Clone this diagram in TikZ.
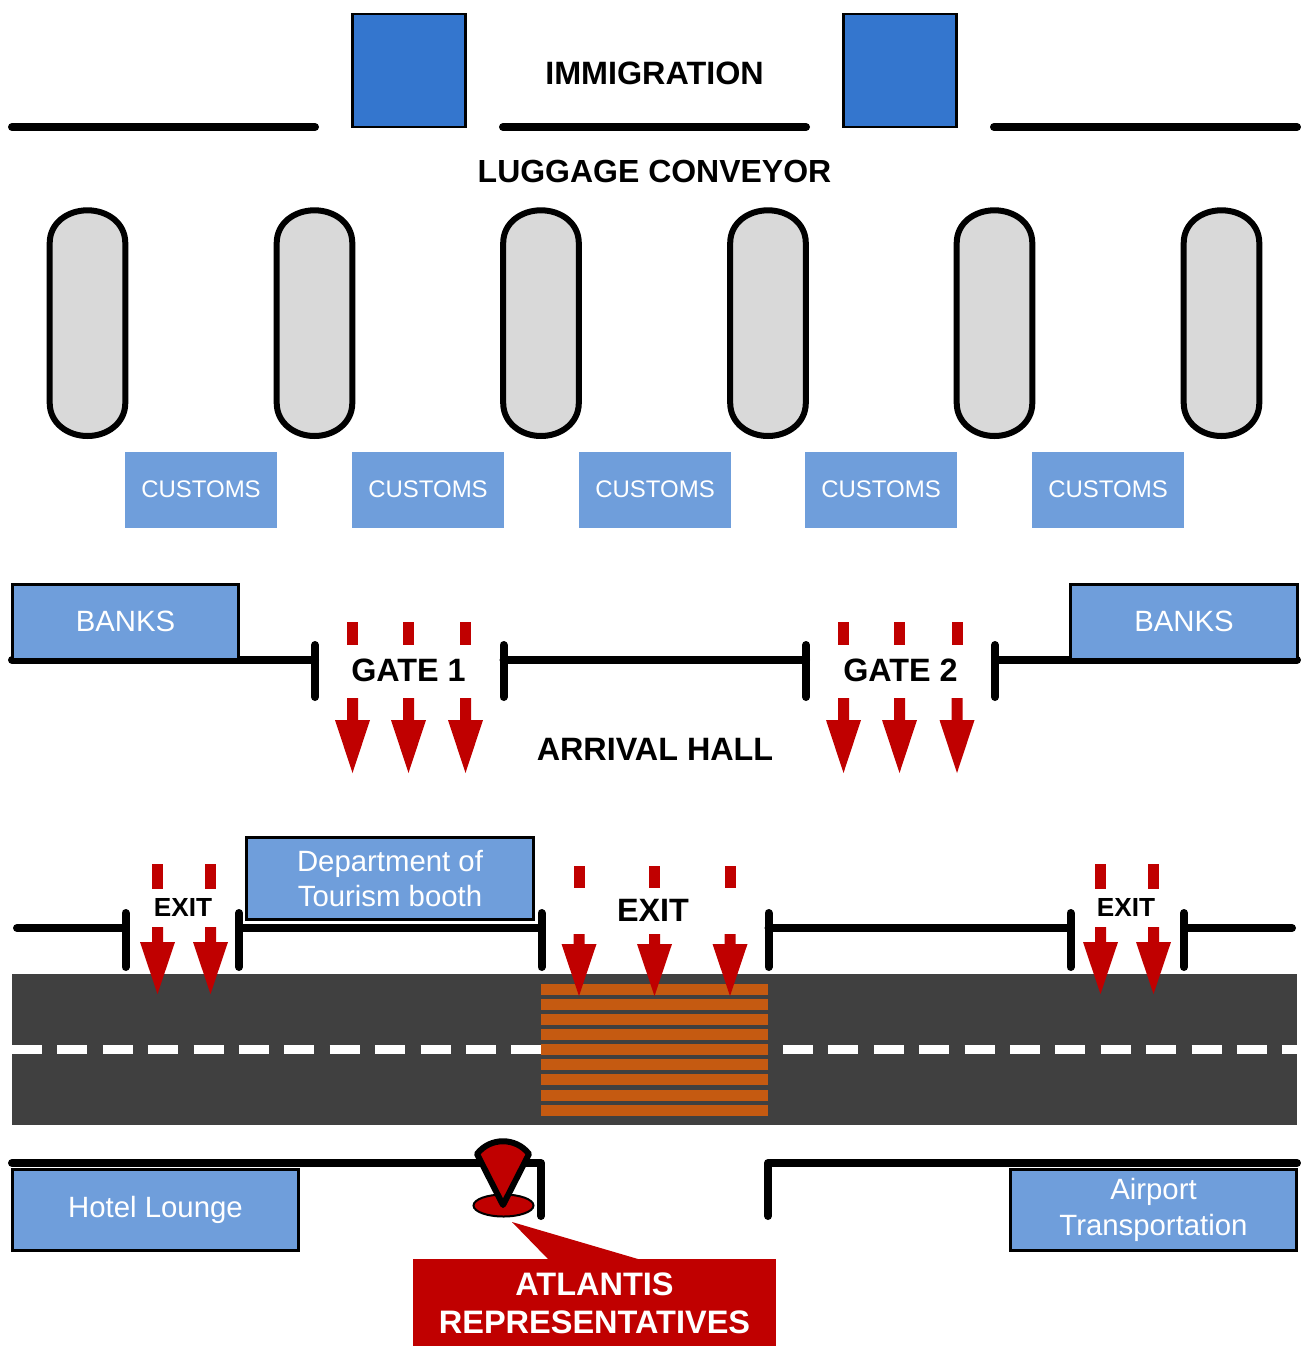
\documentclass[tikz,border=0pt]{standalone}
\usepackage{xcolor}
\usepackage{fontspec}
\setmainfont{Liberation Sans}
\usetikzlibrary{shapes,positioning}
\definecolor{deskblue}{HTML}{3476CE}
\definecolor{boothblue}{HTML}{6F9EDB}
\definecolor{beltgrey}{HTML}{D9D9D9}
\definecolor{flowred}{HTML}{C00000}
\definecolor{roadgrey}{HTML}{404040}
\definecolor{crossorange}{HTML}{C55A11}
\tikzset{
    wall/.style={draw=black, line width=0.16cm, line cap=round, line join=round},
    desk/.style={draw=black, fill=deskblue, line width=0.055cm, inner sep=0pt, minimum width=2.26cm, minimum height=2.26cm},
    belt/.style={draw=black, fill=beltgrey, line width=0.12cm},
    customs/.style={fill=boothblue, text=white, inner sep=0pt, minimum width=3.04cm, minimum height=1.52cm, font=\fontsize{13.65}{16}\selectfont},
    booth/.style={draw=black, fill=boothblue, text=white, line width=0.06cm, inner sep=0pt, align=center, font=\fontsize{16.7}{20.4}\selectfont},
    title/.style={inner sep=0pt, font=\fontsize{18.4}{21}\selectfont\bfseries},
    smalltitle/.style={inner sep=0pt, font=\fontsize{14.9}{18}\selectfont\bfseries},
}
% one dash and one block arrow: x, dash top, dash bottom, shaft top, head top, tip
\newcommand{\flowarrow}[6]{
    \fill[flowred] (#1-5.5,#2) rectangle (#1+5.5,#3);
    \fill[flowred] (#1-5.5,#4) -- (#1+5.5,#4) -- (#1+5.5,#5) -- (#1+17.5,#5) -- (#1,#6) -- (#1-17.5,#5) -- (#1-5.5,#5) -- cycle;
}
% one conveyor, rounded at both ends: x of its middle
\newcommand{\conveyor}[1]{
    \draw[belt] (#1-37.8,243) .. controls (#1-37.8,223) and (#1-20,210.3) .. (#1,210.3) .. controls (#1+20,210.3) and (#1+37.8,223) .. (#1+37.8,243) -- (#1+37.8,403) .. controls (#1+37.8,423) and (#1+20,436) .. (#1,436) .. controls (#1-20,436) and (#1-37.8,423) .. (#1-37.8,403) -- cycle;
}
\begin{document}
\begin{tikzpicture}[x=0.02cm,y=-0.02cm]
        \useasboundingbox (0,0) rectangle (1301,1346);

            % immigration
            \node[desk] (desk1) at (409,70.5) {};
            \node[desk] (desk2) at (900,70.5) {};
            \node[title] (immigration) at (654.5,73.5) {IMMIGRATION};
            \draw[wall] (12,127) -- (315,127);
            \draw[wall] (503,127) -- (806,127);
            \draw[wall] (994,127) -- (1297,127);

            % conveyors
            \node[title, font=\fontsize{18.2}{21}\selectfont\bfseries] (luggage) at (654.5,171.5) {LUGGAGE CONVEYOR};
            \conveyor{87.5}
            \conveyor{314.5}
            \conveyor{541}
            \conveyor{768}
            \conveyor{994.5}
            \conveyor{1221.5}

            % customs
            \node[customs] (customs1) at (201,490) {\raisebox{1pt}{CUSTOMS}};
            \node[customs] (customs2) at (428,490) {\raisebox{1pt}{CUSTOMS}};
            \node[customs] (customs3) at (655,490) {\raisebox{1pt}{CUSTOMS}};
            \node[customs] (customs4) at (881,490) {\raisebox{1pt}{CUSTOMS}};
            \node[customs] (customs5) at (1108,490) {\raisebox{1pt}{CUSTOMS}};

            % gates
            \draw[wall] (12,660) -- (315,660);
            \draw[wall] (503.5,660) -- (806,660);
            \draw[wall] (995,660) -- (1297,660);
            \draw[wall] (315,645) -- (315,697);
            \draw[wall] (503.5,645) -- (503.5,697);
            \draw[wall] (806,645) -- (806,697);
            \draw[wall] (995,645) -- (995,697);
            \node[booth, minimum width=4.54cm, minimum height=1.5cm] (banks1) at (125.5,622) {\raisebox{0.5pt}{BANKS}};
            \node[booth, minimum width=4.56cm, minimum height=1.5cm] (banks2) at (1184,622) {\raisebox{0.5pt}{BANKS}};
            \node[title] (gate1) at (408.5,670.5) {GATE 1};
            \node[title] (gate2) at (900.5,670.5) {GATE 2};
            \node[title] (arrival) at (655,749.5) {ARRIVAL HALL};
            \flowarrow{352.5}{622}{645}{698}{720}{773}
            \flowarrow{408.5}{622}{645}{698}{720}{773}
            \flowarrow{465.5}{622}{645}{698}{720}{773}
            \flowarrow{843.5}{622}{645}{698}{720}{773}
            \flowarrow{899.5}{622}{645}{698}{720}{773}
            \flowarrow{957}{622}{645}{698}{720}{773}

            % exits
            \draw[wall] (17,928) -- (125.5,928);
            \draw[wall] (239,928) -- (541.5,928);
            \draw[wall] (768.5,928) -- (1070.5,928);
            \draw[wall] (1184,928) -- (1292,928);
            \draw[wall] (125.5,913) -- (125.5,967);
            \draw[wall] (239,913) -- (239,967);
            \draw[wall] (541.5,913) -- (541.5,967);
            \draw[wall] (768.5,913) -- (768.5,967);
            \draw[wall] (1070.5,913) -- (1070.5,967);
            \draw[wall] (1184,913) -- (1184,967);
            \node[booth, minimum width=5.74cm, minimum height=1.64cm] (tourism) at (390,878.5) {Department of\\Tourism booth};
            \node[smalltitle] (exit1) at (183,907) {EXIT};
            \node[title] (exit2) at (653,910.5) {EXIT};
            \node[smalltitle] (exit3) at (1126,907) {EXIT};

            % road
            \fill[roadgrey] (12,974) rectangle (1297,1125);
            \draw[white, line width=0.17cm, dash pattern=on 0.6cm off 0.308cm] (12,1049.5) -- (541,1049.5);
            \draw[white, line width=0.17cm, dash pattern=on 0.6cm off 0.308cm] (783,1049.5) -- (1297,1049.5);
            \fill[crossorange] (541,983.5) rectangle (768,994.5);
            \fill[crossorange] (541,998.5) rectangle (768,1009.5);
            \fill[crossorange] (541,1013.5) rectangle (768,1024.5);
            \fill[crossorange] (541,1029) rectangle (768,1040);
            \fill[crossorange] (541,1044) rectangle (768,1055);
            \fill[crossorange] (541,1059) rectangle (768,1070);
            \fill[crossorange] (541,1074) rectangle (768,1085);
            \fill[crossorange] (541,1089.5) rectangle (768,1100.5);
            \fill[crossorange] (541,1104.5) rectangle (768,1115.5);
            \flowarrow{157.5}{864}{889}{927}{942}{994}
            \flowarrow{210.5}{864}{889}{927}{942}{994}
            \flowarrow{579}{866}{888}{934}{944}{996}
            \flowarrow{654.5}{866}{888}{934}{944}{996}
            \flowarrow{730}{866}{888}{934}{944}{996}
            \flowarrow{1100.5}{864}{889}{927}{942}{994}
            \flowarrow{1153.5}{864}{889}{927}{942}{994}

            % lounge side
            \draw[wall] (12,1163) -- (541,1163) -- (541,1216);
            \draw[wall] (1297,1163) -- (768,1163) -- (768,1216);
            \node[booth, minimum width=5.74cm, minimum height=1.62cm] (hotel) at (155.5,1209.5) {Hotel Lounge};
            \node[booth, minimum width=5.74cm, minimum height=1.62cm] (airport) at (1153.5,1209.5) {Airport\\Transportation};

            % representatives
            \node[draw=black, fill=flowred, ellipse, line width=0.04cm, inner sep=0pt, minimum width=1.2cm, minimum height=0.44cm] (spot) at (503.5,1205.5) {};
            \draw[fill=flowred, line width=0.12cm, line join=round] (477,1154) .. controls (490,1137) and (516,1137) .. (529,1154) -- (503,1205) -- cycle;
            \fill[flowred] (512,1222) -- (638,1259) -- (548,1259) -- cycle;
            \node[fill=flowred, text=white, inner sep=0pt, minimum width=7.26cm, minimum height=1.75cm, align=center, font=\fontsize{18.5}{21.5}\selectfont\bfseries] (atlantis) at (594.5,1303) {ATLANTIS\\REPRESENTATIVES};

\end{tikzpicture}
\end{document}
